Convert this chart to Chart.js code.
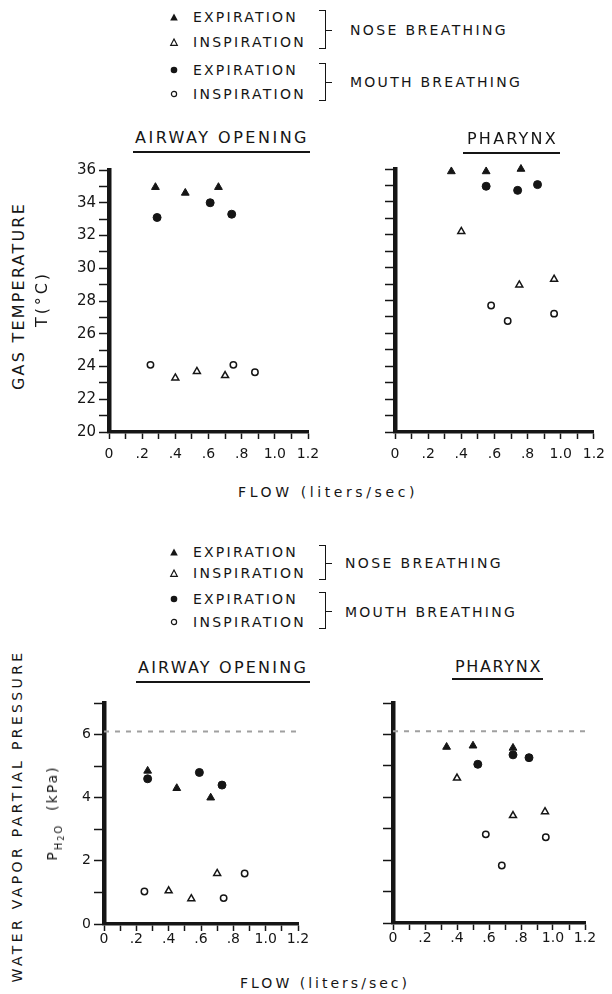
<!DOCTYPE html>
<html>
<head>
<meta charset="utf-8">
<script src="https://cdn.jsdelivr.net/npm/chart.js@4.4.1/dist/chart.umd.min.js"></script>
<style>
    body { margin: 0; background: #fff; }
    #pagina { position: relative; width: 612px; height: 994px; overflow: hidden; font-family: "DejaVu Sans", sans-serif; color: #151515; }
    .painel { position: absolute; }
    .txt { position: absolute; white-space: nowrap; line-height: 1; }
    .chave { position: absolute; border: 1.5px solid #151515; border-left: none; width: 7px; box-sizing: border-box; }
    .chave::after { content: ""; position: absolute; left: 100%; top: 50%; width: 7px; border-top: 1.5px solid #151515; }
    .sublinhado { position: absolute; border-top: 2px solid #151515; }
</style>
</head>
<body>
<div id="pagina">
    <canvas id="canvas_tempAbertura" class="painel" width="290" height="330" style="left:40px;top:150px"></canvas>
    <canvas id="canvas_tempFaringe" class="painel" width="282" height="330" style="left:330px;top:150px"></canvas>
    <canvas id="canvas_vaporAbertura" class="painel" width="290" height="270" style="left:40px;top:690px"></canvas>
    <canvas id="canvas_vaporFaringe" class="painel" width="282" height="270" style="left:330px;top:690px"></canvas>
</div>
<script>
    // eixos compartilhados
    var rotulosFluxo = ['0', '.2', '.4', '.6', '.8', '1.0', '1.2'];   // rotulos a cada 0.2 L/s
    var ticksTemp = [20, 22, 24, 26, 28, 30, 32, 34, 36];
    var ticksPressao = [0, 2, 4, 6];
    var linhaSaturacao = 6.1;     // linha tracejada (kPa)

    // temperatura - abertura da via aerea
    var aberturaNarizExpFluxo = [0.28, 0.46, 0.66];
    var aberturaNarizExpTemp = [34.95, 34.6, 34.95];
    var aberturaNarizInspFluxo = [0.40, 0.53, 0.70];
    var aberturaNarizInspTemp = [23.3, 23.7, 23.45];
    var aberturaBocaExpFluxo = [0.29, 0.61, 0.74];
    var aberturaBocaExpTemp = [33.1, 34.0, 33.3];
    var aberturaBocaInspFluxo = [0.25, 0.75, 0.88];
    var aberturaBocaInspTemp = [24.1, 24.1, 23.65];

    // temperatura - faringe
    var faringeNarizExpFluxo = [0.34, 0.55, 0.76];
    var faringeNarizExpTemp = [35.85, 35.85, 36.0];
    var faringeNarizInspFluxo = [0.40, 0.75, 0.96];
    var faringeNarizInspTemp = [32.2, 28.95, 29.3];
    var faringeBocaExpFluxo = [0.55, 0.74, 0.86];
    var faringeBocaExpTemp = [34.95, 34.7, 35.05];
    var faringeBocaInspFluxo = [0.58, 0.68, 0.96];
    var faringeBocaInspTemp = [27.7, 26.75, 27.2];

    // pressao de vapor - abertura da via aerea
    var aberturaNarizExpFluxoP = [0.27, 0.45, 0.66];
    var aberturaNarizExpPressao = [4.85, 4.3, 4.0];
    var aberturaNarizInspFluxoP = [0.40, 0.54, 0.70];
    var aberturaNarizInspPressao = [1.05, 0.8, 1.6];
    var aberturaBocaExpFluxoP = [0.27, 0.59, 0.73];
    var aberturaBocaExpPressao = [4.6, 4.8, 4.4];
    var aberturaBocaInspFluxoP = [0.25, 0.74, 0.87];
    var aberturaBocaInspPressao = [1.03, 0.82, 1.6];

    // pressao de vapor - faringe
    var faringeNarizExpFluxoP = [0.335, 0.50, 0.75];
    var faringeNarizExpPressao = [5.6, 5.64, 5.57];
    var faringeNarizInspFluxoP = [0.40, 0.75, 0.95];
    var faringeNarizInspPressao = [4.61, 3.42, 3.54];
    var faringeBocaExpFluxoP = [0.53, 0.75, 0.85];
    var faringeBocaExpPressao = [5.05, 5.35, 5.26];
    var faringeBocaInspFluxoP = [0.58, 0.68, 0.955];
    var faringeBocaInspPressao = [2.82, 1.83, 2.73];

    var cor = '#151515';
    var pagina = document.getElementById('pagina');

    function pontos(xs, ys) {
        return xs.map(function (x, i) { return { x: x, y: ys[i] }; });
    }

    // 4 series de cada painel: nariz exp/insp, boca exp/insp
    function series(nExpX, nExpY, nInsX, nInsY, bExpX, bExpY, bInsX, bInsY) {
        return [
            { data: pontos(nExpX, nExpY), clip: false, pointStyle: 'triangle', pointRadius: 4.5, backgroundColor: cor, borderColor: cor, borderWidth: 1 },
            { data: pontos(nInsX, nInsY), clip: false, pointStyle: 'triangle', pointRadius: 4, backgroundColor: '#fff', borderColor: cor, borderWidth: 1.5 },
            { data: pontos(bExpX, bExpY), clip: false, pointStyle: 'circle', pointRadius: 4, backgroundColor: cor, borderColor: cor, borderWidth: 1 },
            { data: pontos(bInsX, bInsY), clip: false, pointStyle: 'circle', pointRadius: 3.2, backgroundColor: '#fff', borderColor: cor, borderWidth: 1.5 }
        ];
    }

    function linhaTracejada() {
        return { data: pontos([0, 1.2], [linhaSaturacao, linhaSaturacao]), showLine: true, pointRadius: 0, borderColor: '#a0a0a0', borderWidth: 2, borderDash: [5, 6], order: 10 };
    }

    function criarPainel(idCanvas, conjuntos, caixa) {
        return new Chart(document.getElementById(idCanvas), {
            type: 'scatter',
            data: { datasets: conjuntos },
            options: {
                responsive: false,
                animation: false,
                events: [],
                layout: { padding: { top: caixa.topo, right: caixa.direita, left: 0, bottom: 0 } },
                plugins: { legend: { display: false }, tooltip: { enabled: false } },
                scales: {
                    x: {
                        type: 'linear', min: 0, max: 1.2,
                        border: { display: true, color: cor, width: 3.5 },
                        grid: { drawOnChartArea: false, drawTicks: true, tickLength: 7, tickWidth: 1.5, tickColor: cor },
                        ticks: {
                            stepSize: 0.1, autoSkip: false, maxRotation: 0, padding: caixa.xPad, color: cor,
                            font: { family: 'DejaVu Sans', size: 14 },
                            callback: function (valor) {
                                var i = Math.round(valor * 10);
                                return i % 2 == 0 ? rotulosFluxo[i / 2] : '';
                            }
                        },
                        afterFit: function (escala) { escala.height = caixa.xAltura; }
                    },
                    y: {
                        type: 'linear', min: caixa.yMin, max: caixa.yMax,
                        border: { display: true, color: cor, width: 4.5 },
                        grid: { drawOnChartArea: false, drawTicks: true, tickLength: 10, tickWidth: 1.5, tickColor: cor },
                        ticks: {
                            stepSize: 1, autoSkip: false, padding: 3, color: cor,
                            font: { family: 'DejaVu Sans', size: caixa.yFonte },
                            callback: function (valor) {
                                return caixa.rotulos.indexOf(valor) >= 0 ? String(valor) : '';
                            }
                        },
                        afterFit: function (escala) { escala.width = caixa.yLargura; }
                    }
                }
            }
        });
    }

    criarPainel('canvas_tempAbertura',
        series(aberturaNarizExpFluxo, aberturaNarizExpTemp, aberturaNarizInspFluxo, aberturaNarizInspTemp,
            aberturaBocaExpFluxo, aberturaBocaExpTemp, aberturaBocaInspFluxo, aberturaBocaInspTemp),
        { topo: 20, direita: 22, yLargura: 69, xAltura: 48, xPad: 7, yMin: 20, yMax: 36, rotulos: ticksTemp, yFonte: 15 });

    criarPainel('canvas_tempFaringe',
        series(faringeNarizExpFluxo, faringeNarizExpTemp, faringeNarizInspFluxo, faringeNarizInspTemp,
            faringeBocaExpFluxo, faringeBocaExpTemp, faringeBocaInspFluxo, faringeBocaInspTemp),
        { topo: 19, direita: 16, yLargura: 65, xAltura: 48, xPad: 7, yMin: 20, yMax: 36, rotulos: [], yFonte: 15 });

    criarPainel('canvas_vaporAbertura',
        series(aberturaNarizExpFluxoP, aberturaNarizExpPressao, aberturaNarizInspFluxoP, aberturaNarizInspPressao,
            aberturaBocaExpFluxoP, aberturaBocaExpPressao, aberturaBocaInspFluxoP, aberturaBocaInspPressao).concat([linhaTracejada()]),
        { topo: 13, direita: 32, yLargura: 64, xAltura: 36, xPad: 0, yMin: 0, yMax: 7, rotulos: ticksPressao, yFonte: 14 });

    criarPainel('canvas_vaporFaringe',
        series(faringeNarizExpFluxoP, faringeNarizExpPressao, faringeNarizInspFluxoP, faringeNarizInspPressao,
            faringeBocaExpFluxoP, faringeBocaExpPressao, faringeBocaInspFluxoP, faringeBocaInspPressao).concat([linhaTracejada()]),
        { topo: 13, direita: 27, yLargura: 63, xAltura: 37, xPad: 0, yMin: 0, yMax: 7, rotulos: [], yFonte: 14 });

    // textos fora dos graficos
    var medidor = document.createElement('canvas').getContext('2d');
    function escrever(texto, cx, cy, largura, tamanho, girar) {
        var el = document.createElement('div');
        el.className = 'txt';
        el.textContent = texto;
        el.style.fontSize = tamanho + 'px';
        medidor.font = tamanho + 'px "DejaVu Sans"';
        var natural = medidor.measureText(texto).width;
        el.style.letterSpacing = ((largura - natural) / texto.length) + 'px';
        el.style.left = cx + 'px';
        el.style.top = cy + 'px';
        el.style.transform = 'translate(-50%,-50%)' + (girar ? ' rotate(-90deg)' : '');
        pagina.appendChild(el);
    }
    function escreverEsq(texto, x, cy, largura, tamanho) {
        escrever(texto, x + largura / 2, cy, largura, tamanho, false);
    }
    function caixaDiv(classe, x, y, w, h) {
        var el = document.createElement('div');
        el.className = classe;
        el.style.left = x + 'px'; el.style.top = y + 'px';
        if (w) el.style.width = w + 'px';
        if (h) el.style.height = h + 'px';
        pagina.appendChild(el);
    }
    function marcador(tipo, cx, cy) {
        var svg = '<svg width="10" height="10" style="position:absolute;left:' + (cx - 5) + 'px;top:' + (cy - 5) + 'px">';
        if (tipo == 'triCheio') svg += '<polygon points="5,1.5 8.8,8.5 1.2,8.5" fill="' + cor + '"/>';
        if (tipo == 'triVazio') svg += '<polygon points="5,2 8.3,8.3 1.7,8.3" fill="none" stroke="' + cor + '" stroke-width="1.2"/>';
        if (tipo == 'circCheio') svg += '<circle cx="5" cy="5" r="3.3" fill="' + cor + '"/>';
        if (tipo == 'circVazio') svg += '<circle cx="5" cy="5" r="2.6" fill="none" stroke="' + cor + '" stroke-width="1.2"/>';
        pagina.insertAdjacentHTML('beforeend', svg + '</svg>');
    }

    function legenda(linhas, narizY, bocaY, narizX) {
        var tipos = ['triCheio', 'triVazio', 'circCheio', 'circVazio'];
        var nomes = ['EXPIRATION', 'INSPIRATION', 'EXPIRATION', 'INSPIRATION'];
        var larguras = [105, 113, 105, 113];
        linhas.forEach(function (y, i) {
            marcador(tipos[i], 174, y);
            escreverEsq(nomes[i], 193, y, larguras[i], 14);
        });
        caixaDiv('chave', 319, linhas[0] - 7, 0, linhas[1] - linhas[0] + 14);
        caixaDiv('chave', 319, linhas[2] - 7, 0, linhas[3] - linhas[2] + 14);
        escreverEsq('NOSE BREATHING', narizX, narizY, 158, 14);
        escreverEsq('MOUTH BREATHING', narizX, bocaY, 172, 14);
    }

    legenda([17, 42, 70, 94], 30, 82, 350);
    legenda([552, 573, 599, 622], 563, 612, 345);

    escreverEsq('AIRWAY OPENING', 135, 138, 174, 16);
    caixaDiv('sublinhado', 133, 151, 177, 0);
    escreverEsq('PHARYNX', 467, 139, 91, 16);
    caixaDiv('sublinhado', 463, 152, 97, 0);
    escreverEsq('AIRWAY OPENING', 138, 668, 170, 16);
    caixaDiv('sublinhado', 136, 681, 174, 0);
    escreverEsq('PHARYNX', 455, 667, 87, 16);
    caixaDiv('sublinhado', 452, 678, 91, 0);

    escreverEsq('FLOW (liters/sec)', 238, 492, 180, 14);
    escreverEsq('FLOW (liters/sec)', 240, 983, 170, 14);

    escrever('GAS TEMPERATURE', 19, 296, 188, 16, true);
    escrever('T(°C)', 42, 299, 56, 16, true);
    escrever('WATER VAPOR PARTIAL PRESSURE', 17, 816, 333, 14, true);

    // P com H2O subscrito
    pagina.insertAdjacentHTML('beforeend',
        '<div class="txt" style="left:52px;top:813px;font-size:14px;letter-spacing:2px;transform:translate(-50%,-50%) rotate(-90deg)">' +
        'P<span style="font-size:10px;position:relative;top:5px">H<span style="font-size:8px;position:relative;top:2px">2</span>O</span>&nbsp;&nbsp;(kPa)</div>');
</script>
</body>
</html>
